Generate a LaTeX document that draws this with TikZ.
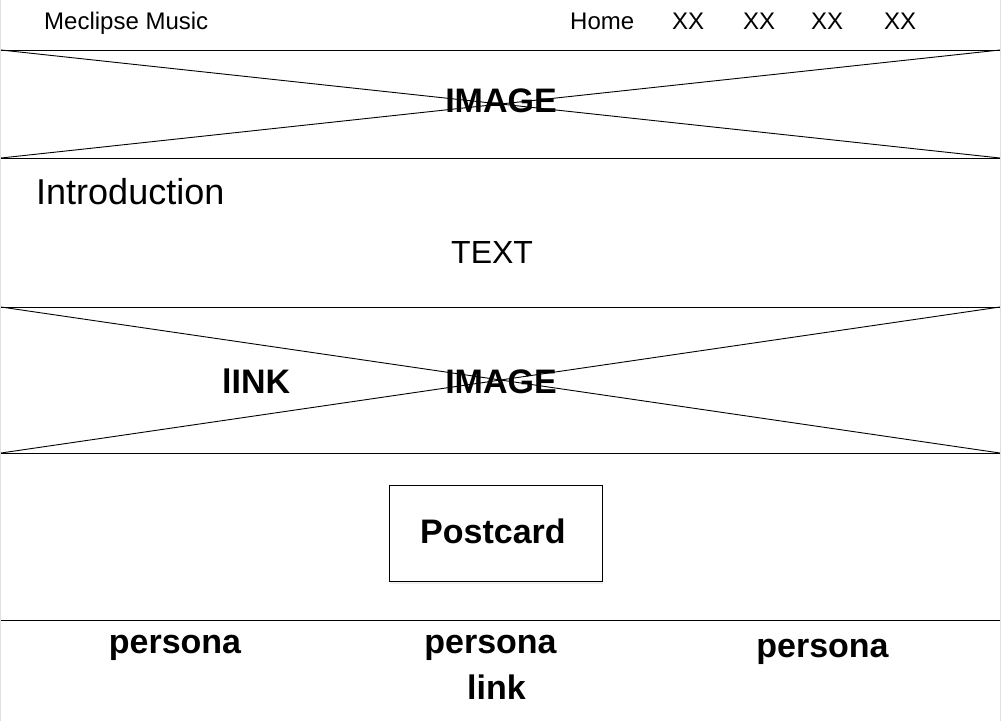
\documentclass[tikz,border=0pt]{standalone}
\usepackage{fontspec}
\setmainfont{Liberation Sans}
\usetikzlibrary{positioning,shadows}

\tikzset{
	rule/.style={line width=1pt},
	cross/.style={line width=0.9pt},
	menu/.style={inner sep=0pt, anchor=base west, font=\fontsize{24}{28}\selectfont},
	heading/.style={inner sep=0pt, anchor=base, font=\bfseries\fontsize{34}{40}\selectfont},
	cardbox/.style={draw, line width=1pt, fill=white, minimum width=213pt, minimum height=96pt,
		drop shadow={opacity=0.12, shadow xshift=1pt, shadow yshift=-3pt}},
}

\begin{document}
\begin{tikzpicture}[x=1pt, y=-1pt]
	\useasboundingbox (0,0) rectangle (1002,721);
	%page border
	\draw[gray!25, line width=1pt] (0.5,0) -- (0.5,721) (1000.5,0) -- (1000.5,721);
	%rules
	\foreach \y/\r in {50/a,158/b,307/c,453/d,620/e}{
		\coordinate (\r w) at (1,\y);
		\coordinate (\r e) at (1000,\y);
		\draw[rule] (\r w) -- (\r e);
	}
	%image crosses
	\draw[cross] (aw) -- (be) (bw) -- (ae);
	\draw[cross] (cw) -- (de) (dw) -- (ce);
	%header
	\node[menu] (brand) at (44,29) {Meclipse Music};
	\node[menu] (home) at (570,29) {Home};
	\foreach \x/\n in {672/1,743/2,811/3,884/4}
	\node[menu] (item\n) at (\x,29) {XX};
	%labels
	\node[heading] (image1) at (501,112) {IMAGE};
	\node[menu, font=\fontsize{36}{42}\selectfont] (intro) at (36,204) {Introduction};
	\node[menu, font=\fontsize{32}{38}\selectfont] (text) at (451,263) {TEXT};
	\node[heading] (image2) at (501,393) {IMAGE};
	\node[heading, anchor=base west] (link) at (222,393) {lINK};
	%postcard
	\node[cardbox] (postcard) at (495.5,533) {};
	\node[heading, anchor=base west] (postcardtext) at (420,543) {Postcard};
	%personas
	\node[heading] (persona1) at (175,653) {persona};
	\node[heading] (persona2) at (490.5,653) {persona};
	\node[heading] (persona2link) at (496.5,699) {link};
	\node[heading] (persona3) at (822.5,657) {persona};
\end{tikzpicture}
\end{document}
